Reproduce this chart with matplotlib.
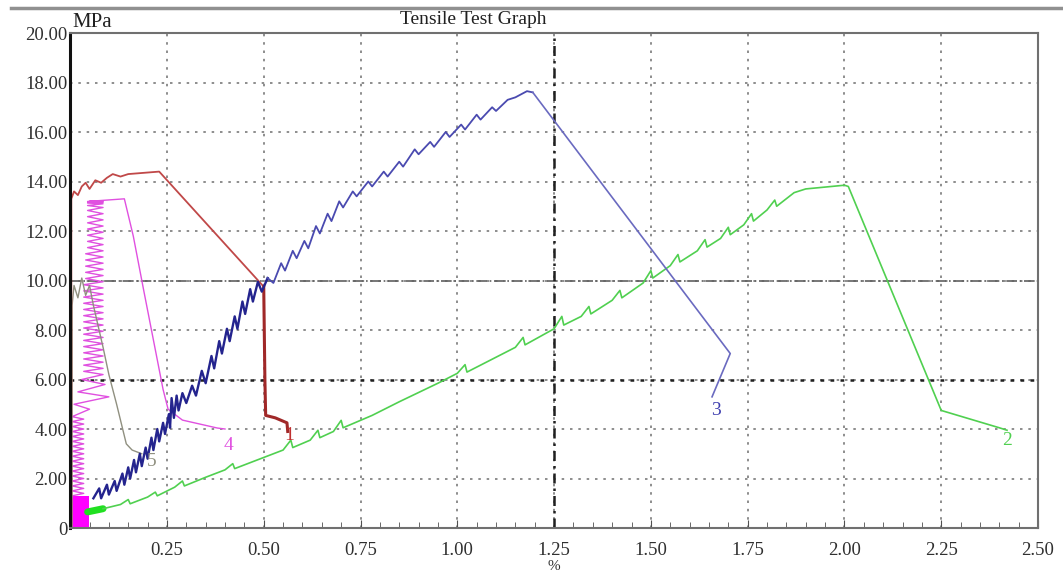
import matplotlib.pyplot as plt
import numpy as np

# Data (strain %, stress MPa)
x_ticks = [0.25, 0.50, 0.75, 1.00, 1.25, 1.50, 1.75, 2.00, 2.25, 2.50]
x_tick_labels = ['0.25', '0.50', '0.75', '1.00', '1.25', '1.50', '1.75', '2.00', '2.25', '2.50']
y_ticks = [0, 2, 4, 6, 8, 10, 12, 14, 16, 18, 20]
y_tick_labels = ['0', '2.00', '4.00', '6.00', '8.00', '10.00', '12.00', '14.00', '16.00', '18.00', '20.00']

# curve 1 (red)
red_x = [0.003, 0.003, 0.010, 0.020, 0.030, 0.040, 0.050, 0.065, 0.080, 0.095, 0.110, 0.130, 0.150, 0.230, 0.500]
red_y = [0.00, 13.30, 13.60, 13.45, 13.80, 13.95, 13.70, 14.05, 13.95, 14.15, 14.30, 14.20, 14.30, 14.40, 9.75]
red_drop_x = [0.500, 0.503, 0.505, 0.530, 0.560, 0.562]
red_drop_y = [9.75, 6.00, 4.55, 4.45, 4.25, 3.90]

# curve 2 (green)
green_blob_x = [0.045, 0.085]
green_blob_y = [0.65, 0.78]
green_x = [0.085, 0.130, 0.150, 0.155, 0.200, 0.220, 0.225, 0.270, 0.290, 0.295, 0.350, 0.400,
           0.420, 0.425, 0.500, 0.550, 0.570, 0.575, 0.620, 0.640, 0.645, 0.680, 0.700, 0.705,
           0.780, 0.850, 0.950, 1.000, 1.020, 1.025, 1.100, 1.150, 1.170, 1.175, 1.250, 1.270,
           1.275, 1.320, 1.340, 1.345, 1.400, 1.420, 1.425, 1.480, 1.500, 1.505, 1.550, 1.570,
           1.575, 1.620, 1.640, 1.645, 1.680, 1.700, 1.705, 1.740, 1.760, 1.765, 1.800, 1.820,
           1.825, 1.870, 1.900, 2.000, 2.010, 2.250, 2.400, 2.420]
green_y = [0.78, 0.95, 1.15, 0.98, 1.25, 1.45, 1.30, 1.65, 1.90, 1.70, 2.05, 2.35,
           2.60, 2.40, 2.85, 3.15, 3.55, 3.25, 3.55, 3.95, 3.65, 3.90, 4.35, 4.05,
           4.55, 5.10, 5.85, 6.25, 6.60, 6.30, 6.90, 7.30, 7.70, 7.40, 8.05, 8.55,
           8.20, 8.55, 8.95, 8.65, 9.20, 9.60, 9.30, 9.90, 10.40, 10.10, 10.60, 11.05,
           10.75, 11.20, 11.65, 11.35, 11.70, 12.15, 11.85, 12.25, 12.70, 12.40, 12.85, 13.25,
           13.00, 13.55, 13.70, 13.85, 13.80, 4.75, 4.05, 3.95]

# curve 3 (blue): lower part, upper part, after break
blue_low_x = [0.060, 0.075, 0.080, 0.095, 0.100, 0.115, 0.120, 0.135, 0.140, 0.150, 0.155, 0.165,
              0.170, 0.180, 0.185, 0.195, 0.200, 0.210, 0.215, 0.225, 0.230, 0.240, 0.245, 0.255,
              0.258, 0.262, 0.268, 0.275, 0.280, 0.290, 0.300, 0.315, 0.325, 0.340, 0.350, 0.365,
              0.372, 0.385, 0.392, 0.405, 0.412, 0.425, 0.432, 0.445, 0.452, 0.465, 0.472, 0.485,
              0.495, 0.510]
blue_low_y = [1.20, 1.60, 1.20, 1.75, 1.35, 1.90, 1.50, 2.20, 1.75, 2.45, 2.00, 2.75,
              2.25, 3.00, 2.50, 3.25, 2.80, 3.65, 3.15, 4.00, 3.50, 4.25, 3.80, 4.60,
              4.05, 5.25, 4.45, 5.35, 4.75, 5.45, 5.05, 5.75, 5.35, 6.35, 5.85, 6.95,
              6.45, 7.55, 7.05, 8.05, 7.55, 8.55, 8.05, 9.15, 8.65, 9.65, 9.15, 9.95,
              9.55, 10.10]
blue_up_x = [0.510, 0.525, 0.545, 0.555, 0.575, 0.585, 0.605, 0.615, 0.635, 0.645, 0.665, 0.675,
             0.695, 0.705, 0.730, 0.740, 0.770, 0.780, 0.810, 0.820, 0.850, 0.860, 0.890, 0.900,
             0.930, 0.940, 0.970, 0.980, 1.010, 1.020, 1.050, 1.060, 1.090, 1.100, 1.130, 1.150,
             1.180, 1.195]
blue_up_y = [10.10, 9.90, 10.70, 10.40, 11.20, 10.90, 11.60, 11.30, 12.20, 11.90, 12.70, 12.40,
             13.20, 12.95, 13.60, 13.40, 14.00, 13.80, 14.40, 14.20, 14.80, 14.60, 15.30, 15.10,
             15.60, 15.40, 16.00, 15.80, 16.30, 16.10, 16.70, 16.50, 17.00, 16.85, 17.30, 17.40,
             17.65, 17.60]
blue_fall_x = [1.195, 1.705, 1.658]
blue_fall_y = [17.60, 7.05, 5.30]

# curve 4 (magenta)
mag_blob_x = [0.000, 0.048, 0.048, 0.000]
mag_blob_y = [0.00, 0.00, 1.30, 1.30]
mag_x = [0.005, 0.035, 0.005, 0.035, 0.005, 0.035, 0.005, 0.035, 0.005, 0.035, 0.005, 0.035,
         0.005, 0.035, 0.005, 0.035, 0.005, 0.035, 0.005, 0.035, 0.005, 0.035, 0.005, 0.035,
         0.005, 0.035, 0.005, 0.035, 0.005, 0.035, 0.005, 0.035, 0.005,
         0.050, 0.010, 0.100, 0.020, 0.090, 0.030, 0.085,
         0.035, 0.085, 0.035, 0.085, 0.035, 0.085, 0.035, 0.085, 0.035, 0.085, 0.035, 0.085,
         0.035, 0.085, 0.035, 0.085, 0.035, 0.085, 0.035, 0.085, 0.035, 0.085, 0.035, 0.085,
         0.035, 0.085, 0.035, 0.085, 0.035, 0.085, 0.040, 0.085, 0.040, 0.085, 0.040, 0.085,
         0.040, 0.085, 0.040, 0.085, 0.045, 0.085, 0.045, 0.085, 0.045, 0.085, 0.045, 0.085,
         0.045, 0.085, 0.045, 0.085, 0.045, 0.085, 0.045, 0.085, 0.045, 0.085, 0.045, 0.085,
         0.045, 0.080, 0.050, 0.140, 0.163, 0.190, 0.240, 0.253, 0.290, 0.380, 0.400]
mag_y = [1.30, 1.40, 1.50, 1.60, 1.70, 1.80, 1.90, 2.00, 2.10, 2.20, 2.30, 2.40,
         2.50, 2.60, 2.70, 2.80, 2.90, 3.00, 3.10, 3.20, 3.30, 3.40, 3.50, 3.60,
         3.70, 3.80, 3.90, 4.00, 4.10, 4.20, 4.30, 4.40, 4.50,
         4.80, 5.00, 5.30, 5.50, 5.80, 6.00, 6.20,
         6.33, 6.45, 6.58, 6.70, 6.83, 6.95, 7.08, 7.20, 7.33, 7.45, 7.58, 7.70,
         7.83, 7.95, 8.08, 8.20, 8.33, 8.45, 8.58, 8.70, 8.83, 8.95, 9.08, 9.20,
         9.33, 9.45, 9.58, 9.70, 9.83, 9.95, 10.08, 10.20, 10.33, 10.45, 10.58, 10.70,
         10.83, 10.95, 11.08, 11.20, 11.33, 11.45, 11.58, 11.70, 11.83, 11.95, 12.08, 12.20,
         12.33, 12.45, 12.58, 12.70, 12.83, 12.95, 13.03, 13.10, 13.13, 13.16, 13.18, 13.19,
         13.19, 13.20, 13.20, 13.30, 11.80, 9.60, 5.60, 4.80, 4.36, 4.04, 4.00]

# curve 5 (grey)
grey_x = [0.005, 0.005, 0.010, 0.020, 0.030, 0.040, 0.050, 0.060, 0.085, 0.100, 0.120, 0.145, 0.160, 0.185]
grey_y = [0.00, 9.00, 9.80, 9.30, 10.10, 9.40, 9.80, 9.00, 7.30, 6.20, 5.00, 3.40, 3.15, 3.00]

curve_labels = ['1', '2', '3', '4', '5']
label_x = [0.565, 2.42, 1.667, 0.41, 0.21]
label_y = [3.75, 3.55, 4.75, 3.35, 2.70]
label_colors = ['#c03030', '#50d050', '#4040b0', '#e050e0', '#909080']

serif = ['Liberation Serif', 'DejaVu Serif']

fig = plt.figure(figsize=(10.63, 5.81), dpi=100)
ax = fig.add_axes([0.066, 0.0912, 0.9105, 0.852])

# grid
ax.set_xticks(x_ticks)
ax.set_xticklabels(x_tick_labels, family=serif, fontsize=13.5, color='#303030')
ax.set_yticks(y_ticks)
ax.set_yticklabels(y_tick_labels, family=serif, fontsize=13.5, color='#303030')
ax.set_xticks(np.arange(0.05, 2.5, 0.05), minor=True)
ax.grid(True, which='major', color='#7a7a7a', linestyle=(0, (1.5, 3.5)), linewidth=1.2)
ax.axhline(6, color='#202020', linestyle=(0, (1.5, 2.5)), linewidth=1.8)
ax.axhline(10, color='#606060', linestyle='-.', linewidth=1.2)
ax.axvline(1.25, color='#202020', linestyle=(0, (4, 2, 1, 2)), linewidth=1.8)

# curves
ax.fill(mag_blob_x, mag_blob_y, color='#ff00ff', lw=0)
ax.plot(mag_x, mag_y, color='#e050e0', lw=1.0)
ax.plot(grey_x, grey_y, color='#909080', lw=1.0)
ax.plot(red_x, red_y, color='#c04848', lw=1.3)
ax.plot(red_drop_x, red_drop_y, color='#a02828', lw=2.2)
ax.plot(green_blob_x, green_blob_y, color='#20e020', lw=5, solid_capstyle='round')
ax.plot(green_x, green_y, color='#50d050', lw=1.2)
ax.plot(blue_low_x, blue_low_y, color='#24248e', lw=1.7)
ax.plot(blue_up_x, blue_up_y, color='#4a4ab0', lw=1.3)
ax.plot(blue_fall_x, blue_fall_y, color='#6a6ac0', lw=1.2)

for t, lx, ly, c in zip(curve_labels, label_x, label_y, label_colors):
    ax.text(lx, ly, t, color=c, family=serif, fontsize=14, ha='center', va='center')

ax.set_xlim(0, 2.5)
ax.set_ylim(0, 20)

for side in ['top', 'right', 'bottom']:
    ax.spines[side].set_color('#707070')
    ax.spines[side].set_linewidth(1.5)
ax.spines['left'].set_color('#101010')
ax.spines['left'].set_linewidth(2.2)

ax.tick_params(axis='x', which='major', direction='in', length=6, color='#505050', pad=10)
ax.tick_params(axis='x', which='minor', direction='in', length=4, color='#505050')
ax.tick_params(axis='y', length=0, pad=2)

ax.set_xlabel('%', family=serif, fontsize=11, labelpad=1, color='#303030')

fig.text(0.068, 0.962, 'MPa', family=serif, fontsize=15, ha='left', va='center', color='#202020')
fig.text(0.445, 0.966, 'Tensile Test Graph', family=serif, fontsize=14, ha='center', va='center',
         color='#202020')
fig.add_artist(plt.Line2D([0.01, 1.0], [0.986, 0.986], color='#909090', lw=2.5))

fig.savefig('out.png', dpi=100, facecolor='white')
